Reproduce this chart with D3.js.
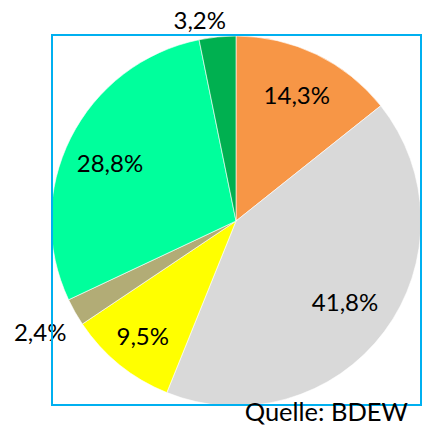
<!DOCTYPE html>
<html>
<head>
<meta charset="utf-8">
<script src="https://cdn.jsdelivr.net/npm/d3@7"></script>
<style>
  body { margin: 0; background: #fff; }
  svg text { font-family: Lato, "Liberation Sans", sans-serif; fill: #000; }
</style>
</head>
<body>
<div id="chart"></div>
<script>
// shares, clockwise from 12 o'clock
var labels = ["14,3%", "41,8%", "9,5%", "2,4%", "28,8%", "3,2%"];
var values = [14.3, 41.8, 9.5, 2.4, 28.8, 3.2];
var colors = ["#F79646", "#D9D9D9", "#FFFF00", "#B2AC76", "#00FF9C", "#00B050"];
var source = "Quelle: BDEW";

var width = 424, height = 425;
var cx = 236, cy = 221, radius = 185;
// label distance from centre for each slice
var labelR = [140, 136, 148, 225, 141, 202];

var svg = d3.select("#chart").append("svg")
    .attr("width", width)
    .attr("height", height);

var pie = d3.pie().sort(null).value(function(d) { return d; });
var arcs = pie(values);

var arc = d3.arc().innerRadius(0).outerRadius(radius);

var g = svg.append("g").attr("transform", "translate(" + cx + "," + cy + ")");

g.selectAll("path")
  .data(arcs)
  .enter().append("path")
    .attr("d", arc)
    .attr("fill", function(d, i) { return colors[i]; })
    .attr("stroke", "#fff")
    .attr("stroke-width", 0.6);

g.selectAll("text.lbl")
  .data(arcs)
  .enter().append("text")
    .attr("class", "lbl")
    .attr("transform", function(d, i) {
      var a = (d.startAngle + d.endAngle) / 2;
      var r = labelR[i];
      var x = Math.sin(a) * r, y = -Math.cos(a) * r;
      if (i == 5) x -= 16; // excel nudges this one left
      if (i == 4) y += 6;
      return "translate(" + x + "," + y + ")";
    })
    .attr("text-anchor", "middle")
    .attr("dy", "0.36em")
    .style("font-size", "24px")
    .text(function(d, i) { return labels[i]; });

// plot frame
svg.append("rect")
    .attr("x", 52).attr("y", 35)
    .attr("width", 369).attr("height", 370)
    .attr("fill", "none")
    .attr("stroke", "#00B0F0")
    .attr("stroke-width", 2);

svg.append("text")
    .attr("x", 408).attr("y", 421)
    .attr("text-anchor", "end")
    .style("font-size", "25.5px")
    .text(source);
</script>
</body>
</html>
